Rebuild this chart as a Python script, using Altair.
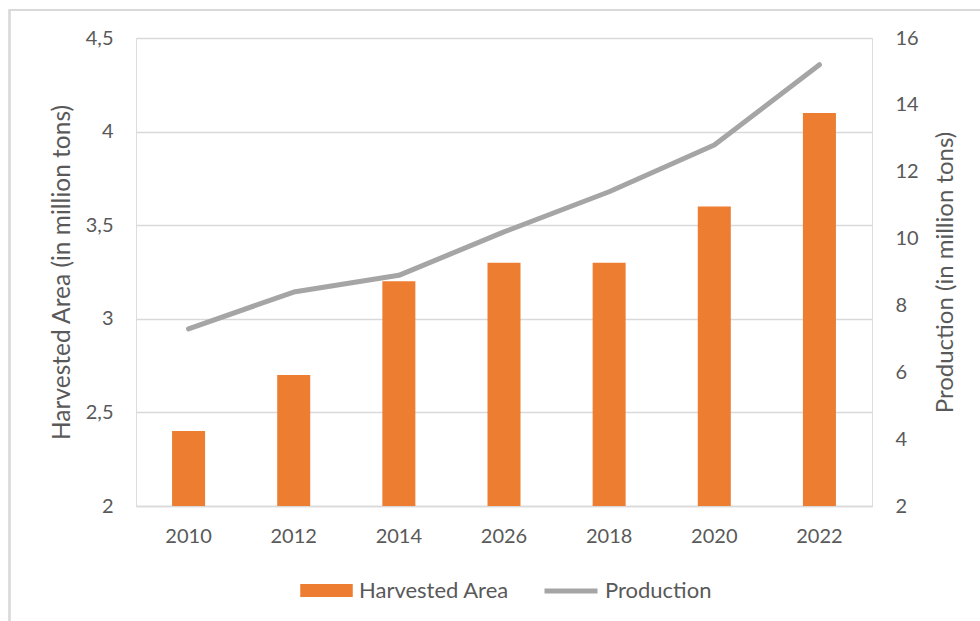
import altair as alt
import pandas as pd

# ---- data ----
years = ["2010", "2012", "2014", "2026", "2018", "2020", "2022"]
harvested_area = [2.4, 2.7, 3.2, 3.3, 3.3, 3.6, 4.1]
production = [7.3, 8.4, 8.9, 10.2, 11.4, 12.8, 15.2]
bar_series = ["Harvested Area"]
line_series = ["Production"]
left_ticks = [2, 2.5, 3, 3.5, 4, 4.5]
right_ticks = [2, 4, 6, 8, 10, 12, 14, 16]

df = pd.DataFrame({"year": years, "area": harvested_area, "production": production})

FONT = "Lato"
TXT = "#595959"
GRID = "#D9D9D9"
ORANGE = "#ED7D31"
GRAY = "#A5A5A5"

W, H = 736, 468
PAD = {"left": 136, "top": 38, "right": 980 - 136 - W, "bottom": 621 - 38 - H}

x_enc = alt.X(
    "year:N",
    sort=years,
    scale=alt.Scale(paddingInner=0, paddingOuter=0),
    axis=alt.Axis(
        title=None, labelAngle=0, labelFontSize=20, labelColor=TXT, labelFont=FONT,
        labelPadding=20, domain=True, domainColor=GRID, domainWidth=1.5,
        ticks=False, grid=False,
    ),
)

bars = alt.Chart(df).transform_calculate(series="'Harvested Area'").mark_bar(
    width=alt.RelativeBandSize(0.314)
).encode(
    x=x_enc,
    y=alt.Y(
        "area:Q",
        scale=alt.Scale(domain=[2, 4.5], zero=False, nice=False),
        axis=alt.Axis(
            orient="left", values=left_ticks, format="~g",
            labelExpr="replace(datum.label, '.', ',')",
            grid=True, gridColor=GRID, gridWidth=1.3, domain=False, ticks=False,
            labelFontSize=20, labelColor=TXT, labelFont=FONT, labelPadding=23,
            title="Harvested Area (in million tons)", titleFont=FONT, titleFontSize=24.5,
            titleFontWeight="normal", titleColor=TXT, titleAngle=270,
            titleX=-74, titleY=H / 2, titleAlign="center", titleBaseline="middle",
        ),
    ),
    y2=alt.datum(2),
    fill=alt.Fill(
        "series:N",
        scale=alt.Scale(domain=bar_series, range=[ORANGE]),
        legend=alt.Legend(
            title=None, orient="none", legendX=164, legendY=526,
            symbolType="M-1,-0.25H1V0.25H-1Z", symbolSize=2756, symbolStrokeWidth=0,
            symbolOpacity=1, labelFontSize=22, labelColor=TXT, labelFont=FONT,
            labelOffset=6,
        ),
    ),
)

line = alt.Chart(df).transform_calculate(series="'Production'").mark_line(
    strokeWidth=5, strokeCap="round", strokeJoin="round"
).encode(
    x=x_enc,
    y=alt.Y(
        "production:Q",
        scale=alt.Scale(domain=[2, 16], zero=False, nice=False),
        axis=alt.Axis(
            orient="right", values=right_ticks, grid=False, domain=False, ticks=False,
            labelFontSize=20, labelColor=TXT, labelFont=FONT, labelPadding=23,
            title="Production (in million tons)", titleFont=FONT, titleFontSize=24,
            titleFontWeight="normal", titleColor=TXT, titleAngle=270,
            titleX=73, titleY=H / 2, titleAlign="center", titleBaseline="middle",
        ),
    ),
    stroke=alt.Stroke(
        "series:N",
        scale=alt.Scale(domain=line_series, range=[GRAY]),
        legend=alt.Legend(
            title=None, orient="none", legendX=406, legendY=524,
            symbolType="stroke", symbolSize=2809, symbolStrokeWidth=5,
            symbolOpacity=1, labelFontSize=22, labelColor=TXT, labelFont=FONT,
            labelOffset=5,
        ),
    ),
)

frame = alt.Chart(df).mark_rect(filled=False, stroke=GRID, strokeWidth=1.5).encode(
    x=alt.value(9.5 - PAD["left"]), y=alt.value(10 - PAD["top"]),
    x2=alt.value(990 - PAD["left"]), y2=alt.value(640 - PAD["top"]),
)

chart = alt.layer(frame, bars, line).resolve_scale(y="independent").properties(
    width=W, height=H, padding=PAD,
    autosize=alt.AutoSizeParams(type="none"),
    background="white",
).configure_view(stroke=None).configure(font=FONT)

chart.save("out.html", embed_options={"renderer": "svg", "actions": False})
